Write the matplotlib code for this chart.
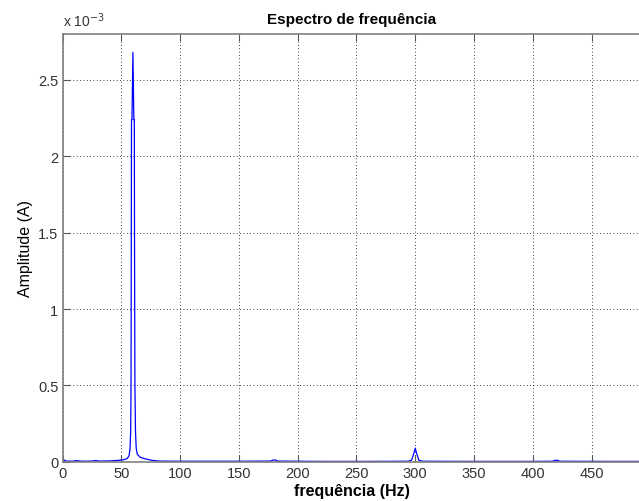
import matplotlib
matplotlib.use("Agg")
import matplotlib.pyplot as plt
from matplotlib.ticker import FuncFormatter

plt.rcParams['font.family'] = ['Liberation Sans', 'DejaVu Sans']

# spectrum points (Hz, amplitude in units of 1e-3 A)
freq = [0, 1, 3, 8, 12, 15, 20, 26, 28, 31, 40, 48, 52, 55, 56.5, 57.3, 57.9, 58.2,
        58.4, 58.6, 59.0, 59.8, 60.6, 61.0, 61.2, 61.5, 62.0, 62.6, 63.5, 66, 70, 76, 82,
        100, 150, 177, 179, 181, 183, 220, 260, 294, 297, 299, 300, 301, 303, 306,
        350, 400, 417, 419, 421, 423, 460, 495]
amp = [0.025, 0.012, 0.005, 0.004, 0.008, 0.005, 0.004, 0.006, 0.009, 0.005, 0.006, 0.010,
       0.014, 0.022, 0.04, 0.08, 0.20, 0.50,
       1.36, 2.24, 2.24, 2.68, 2.24, 2.24, 1.36, 0.50, 0.20, 0.09, 0.05, 0.03, 0.02, 0.01, 0.005,
       0.004, 0.004, 0.005, 0.012, 0.012, 0.005, 0.003, 0.003, 0.004, 0.012, 0.06, 0.09, 0.06, 0.012, 0.004,
       0.003, 0.003, 0.004, 0.010, 0.010, 0.004, 0.003, 0.003]
amp_a = [a * 1e-3 for a in amp]

x_ticks = [0, 50, 100, 150, 200, 250, 300, 350, 400, 450]
y_ticks = [0, 0.5e-3, 1e-3, 1.5e-3, 2e-3, 2.5e-3]

fig = plt.figure(figsize=(6.39, 5.02), dpi=100)
ax = fig.add_axes([0.098, 0.078, 0.905, 0.852])

ax.plot(freq, amp_a, color="#0000ff", linewidth=0.9)

ax.set_xlim(0, 492)
ax.set_ylim(0, 2.8e-3)
ax.set_xticks(x_ticks)
ax.set_yticks(y_ticks)
ax.yaxis.set_major_formatter(FuncFormatter(lambda v, p: "%g" % round(v * 1e3, 3)))

ax.grid(True, linestyle=(0, (1, 3)), color="black", linewidth=0.6)
ax.tick_params(direction="in", length=5, width=0.8, colors="#555555", labelcolor="#333333",
               labelsize=10.5, top=True, right=False, pad=3)
for s in ax.spines.values():
    s.set_color("#808080")
    s.set_linewidth(1.2)
ax.spines["right"].set_visible(False)

ax.text(0, 1.012, "x 10$^{-3}$", transform=ax.transAxes, ha="left", va="bottom",
        fontsize=10, color="#333333")
ax.set_title("Espectro de frequência", fontsize=11, fontweight="bold", pad=8)
ax.set_xlabel("frequência (Hz)", fontsize=11.5, fontweight="bold", labelpad=2)
ax.set_ylabel("Amplitude (A)", fontsize=11.5, labelpad=4)

fig.savefig("out.png", dpi=100)
